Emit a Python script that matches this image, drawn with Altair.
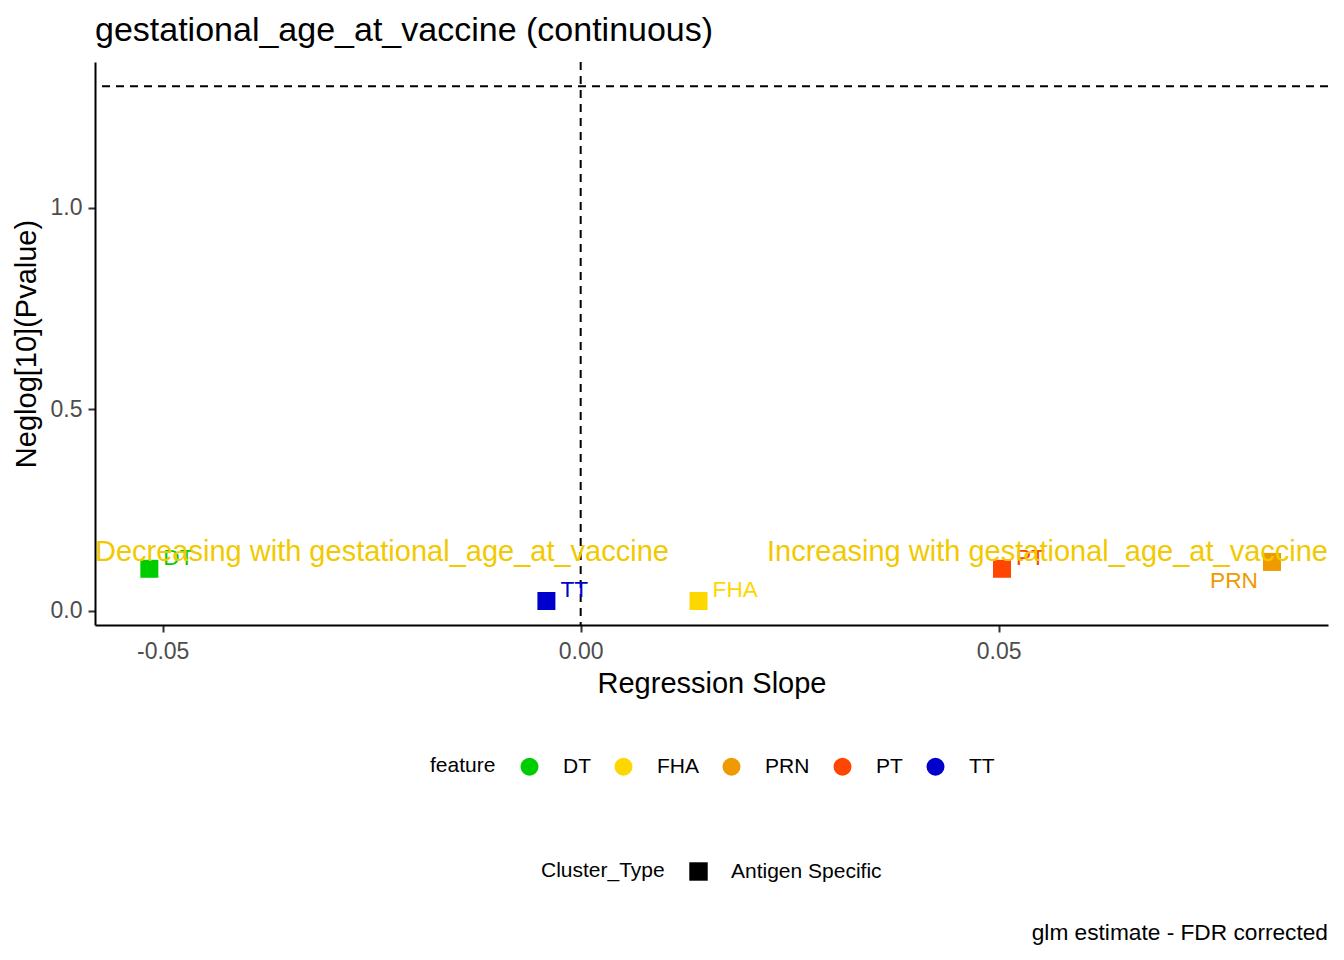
import altair as alt
import pandas as pd

# ---- data ----
features = ["DT", "FHA", "PRN", "PT", "TT"]
slopes = [-0.0516, 0.0141, 0.0827, 0.0504, -0.0041]
neglog_p = [0.104, 0.024, 0.121, 0.104, 0.024]
cluster_type = ["Antigen Specific"] * 5
feature_colors = ["#00CD00", "#FFD700", "#EE9A00", "#FF4500", "#0000CD"]

x_domain = [-0.0581, 0.0894]
y_domain = [-0.0355, 1.3615]
sig_threshold = [1.30103]      # -log10(0.05)
zero_line = [0.0]

annot_text = ["Decreasing with gestational_age_at_vaccine",
              "Increasing with gestational_age_at_vaccine"]
annot_x = [x_domain[0], x_domain[1]]
annot_y = [0.146, 0.146]
caption = ["glm estimate - FDR corrected"]

FONT = "Liberation Sans"
W, H = 1233, 563

df = pd.DataFrame({"feature": features, "slope": slopes,
                   "neglog": neglog_p, "Cluster_Type": cluster_type})

xs = alt.Scale(domain=x_domain, nice=False, zero=False)
ys = alt.Scale(domain=y_domain, nice=False, zero=False)
cs = alt.Scale(domain=features, range=feature_colors)

base = alt.Chart(df)

points = base.mark_point(filled=True, size=324, opacity=1).encode(
    x=alt.X("slope:Q", scale=xs,
            axis=alt.Axis(title="Regression Slope", values=[-0.05, 0, 0.05],
                          labelPadding=8, titlePadding=6,
                          labelExpr="replace(format(datum.value, '.2f'), '\u2212', '-')")),
    y=alt.Y("neglog:Q", scale=ys,
            axis=alt.Axis(title="Neglog[10](Pvalue)", values=[0, 0.5, 1.0],
                          format=".1f")),
    color=alt.Color("feature:N", scale=cs,
                    legend=alt.Legend(orient="none", legendX=335, legendY=756 - 62,
                                      direction="horizontal", titleOrient="left",
                                      symbolType="circle", symbolSize=324,
                                      columnPadding=22, labelOffset=23,
                                      titlePadding=23, symbolStrokeWidth=0)),
    shape=alt.Shape("Cluster_Type:N", scale=alt.Scale(range=["square"]),
                    legend=alt.Legend(orient="none", legendX=541 - 95, legendY=861 - 62,
                                      direction="horizontal", titleOrient="left",
                                      symbolSize=340, symbolFillColor="black",
                                      symbolStrokeColor="black", symbolStrokeWidth=0,
                                      labelOffset=22, titlePadding=23)),
)

labels = base.transform_filter(alt.datum.feature != "PRN").mark_text(
    align="left", baseline="middle", dx=14, dy=-11, fontSize=22.7, font=FONT
).encode(x=alt.X("slope:Q", scale=xs), y=alt.Y("neglog:Q", scale=ys),
         text="feature:N", color=alt.Color("feature:N", scale=cs, legend=None))

labels_prn = base.transform_filter(alt.datum.feature == "PRN").mark_text(
    align="right", baseline="middle", dx=-14, dy=19, fontSize=22.7, font=FONT
).encode(x=alt.X("slope:Q", scale=xs), y=alt.Y("neglog:Q", scale=ys),
         text="feature:N", color=alt.Color("feature:N", scale=cs, legend=None))

vline = alt.Chart(pd.DataFrame({"x": zero_line})).mark_rule(
    color="black", strokeDash=[8, 6], strokeWidth=2
).encode(x=alt.X("x:Q", scale=xs))

hline = alt.Chart(pd.DataFrame({"y": sig_threshold})).mark_rule(
    color="black", strokeDash=[8, 6], strokeWidth=2
).encode(y=alt.Y("y:Q", scale=ys))

adf = pd.DataFrame({"text": annot_text, "x": annot_x, "y": annot_y,
                    "side": ["left", "right"]})
annot_l = alt.Chart(adf).transform_filter(alt.datum.side == "left").mark_text(
    align="left", baseline="middle", fontSize=29, font=FONT, color="#F2C900"
).encode(x=alt.X("x:Q", scale=xs), y=alt.Y("y:Q", scale=ys), text="text:N")
annot_r = alt.Chart(adf).transform_filter(alt.datum.side == "right").mark_text(
    align="right", baseline="middle", fontSize=29, font=FONT, color="#F2C900"
).encode(x=alt.X("x:Q", scale=xs), y=alt.Y("y:Q", scale=ys), text="text:N")

cap = alt.Chart(pd.DataFrame({"text": caption})).mark_text(
    align="right", baseline="middle", fontSize=22.7, font=FONT, color="black"
).encode(x=alt.value(W), y=alt.value(933 - 62), text="text:N")

chart = alt.layer(vline, hline, points, labels, labels_prn, annot_l, annot_r, cap).properties(
    width=W, height=H,
    title=alt.Title("gestational_age_at_vaccine (continuous)", anchor="start",
                    frame="group", fontSize=34, font=FONT, fontWeight="normal",
                    color="black", offset=13),
    autosize=alt.AutoSizeParams(type="none"),
    padding={"left": 87, "top": 54, "right": 8, "bottom": 960 - 16 - 54 - H},
).configure_view(stroke=None).configure_axis(
    grid=False, domainColor="black", domainWidth=2, tickColor="#333333",
    tickWidth=2, tickSize=7, labelColor="#4D4D4D", labelFontSize=23,
    labelFont=FONT, titleFont=FONT, titleFontSize=29, titleFontWeight="normal",
    titleColor="black", labelPadding=6
).configure_axisY(titlePadding=9).configure_legend(
    labelFont=FONT, titleFont=FONT, labelFontSize=21, titleFontSize=21,
    titleFontWeight="normal", labelColor="black", titleColor="black"
)

chart.save("out.html", embed_options={"renderer": "svg", "actions": False})
